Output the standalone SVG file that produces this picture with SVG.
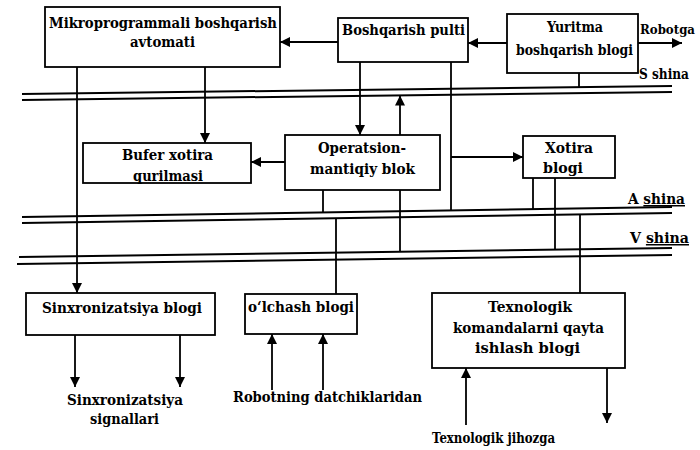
<svg xmlns="http://www.w3.org/2000/svg" width="700" height="450" viewBox="0 0 700 450">
<defs>
<marker id="ah" viewBox="0 0 10 10" refX="10" refY="5" markerWidth="10" markerHeight="10" markerUnits="userSpaceOnUse" orient="auto">
<path d="M0,0 L10,5 L0,10 Z" fill="#000"/>
</marker>
<style>
.box{fill:#fff;stroke:#000;stroke-width:1.8}
.ln{fill:none;stroke:#000;stroke-width:1.8}
.bus{fill:none;stroke:#000;stroke-width:2}
.ar{fill:none;stroke:#000;stroke-width:1.8;marker-end:url(#ah)}
text{font-family:"DejaVu Serif","Liberation Serif",serif;font-weight:bold;font-size:15px;fill:#000}
</style>
</defs>
<rect width="700" height="450" fill="#fff"/>

<g id="buses">
<line class="bus" x1="22" y1="94" x2="672" y2="86"/>
<line class="bus" x1="22" y1="100" x2="672" y2="92"/>
<line class="bus" x1="22" y1="217" x2="672" y2="207"/>
<line class="bus" x1="22" y1="223" x2="672" y2="213"/>
<line class="bus" x1="19" y1="257" x2="672" y2="248"/>
<line class="bus" x1="17" y1="264" x2="672" y2="255"/>
<text x="639" y="79" textLength="50" lengthAdjust="spacingAndGlyphs">S shina</text>
<text x="628" y="204" textLength="57" lengthAdjust="spacingAndGlyphs">A <tspan text-decoration="underline">shina</tspan></text>
<text x="630" y="243" textLength="59" lengthAdjust="spacingAndGlyphs">V <tspan text-decoration="underline">shina</tspan></text>
</g>

<g id="connectors">
<line class="ar" x1="77" y1="67" x2="77" y2="293"/>
<line class="ar" x1="205" y1="67" x2="205" y2="143"/>
<line class="ar" x1="338" y1="42" x2="280" y2="42"/>
<line class="ar" x1="507" y1="43" x2="468" y2="43"/>
<line class="ar" x1="638" y1="43" x2="682" y2="43"/>
<line class="ar" x1="360" y1="62" x2="360" y2="135"/>
<line class="ar" x1="400" y1="135" x2="400" y2="95.5"/>
<line class="ln" x1="451" y1="62" x2="451" y2="210.4"/>
<line class="ar" x1="451" y1="157" x2="523" y2="157"/>
<line class="ln" x1="579" y1="73" x2="579" y2="87.2"/>
<line class="ar" x1="285" y1="162" x2="251" y2="162"/>
<line class="ln" x1="323" y1="190" x2="323" y2="212.4"/>
<line class="ln" x1="400" y1="190" x2="400" y2="251.7"/>
<line class="ln" x1="336" y1="218.2" x2="336" y2="294"/>
<line class="ln" x1="533" y1="178" x2="533" y2="209.1"/>
<line class="ln" x1="555" y1="178" x2="555" y2="249.6"/>
<line class="ln" x1="580" y1="214.4" x2="580" y2="293"/>
<line class="ar" x1="75" y1="335" x2="75" y2="387"/>
<line class="ar" x1="180" y1="335" x2="180" y2="387"/>
<line class="ar" x1="272" y1="390" x2="272" y2="334"/>
<line class="ar" x1="323" y1="390" x2="323" y2="334"/>
<line class="ar" x1="466" y1="425" x2="466" y2="368"/>
<line class="ar" x1="607" y1="368" x2="607" y2="423"/>
<text x="640" y="34" style="font-size:13px" textLength="55" lengthAdjust="spacingAndGlyphs">Robotga</text>
<text x="67" y="405" textLength="116" lengthAdjust="spacingAndGlyphs">Sinxronizatsiya</text>
<text x="90" y="424" textLength="69" lengthAdjust="spacingAndGlyphs">signallari</text>
<text x="233" y="402" textLength="189" lengthAdjust="spacingAndGlyphs">Robotning datchiklaridan</text>
<text x="432" y="443" textLength="123" lengthAdjust="spacingAndGlyphs">Texnologik jihozga</text>
</g>

<g id="mikro">
<rect class="box" x="45" y="7" width="235" height="60"/>
<text x="49" y="28" textLength="228" lengthAdjust="spacingAndGlyphs">Mikroprogrammali boshqarish</text>
<text x="130" y="47" textLength="65" lengthAdjust="spacingAndGlyphs">avtomati</text>
</g>

<g id="pult">
<rect class="box" x="338" y="18" width="130" height="44"/>
<text x="342" y="35" textLength="123" lengthAdjust="spacingAndGlyphs">Boshqarish pulti</text>
</g>

<g id="yuritma">
<rect class="box" x="507" y="14" width="131" height="59"/>
<text x="547" y="32" textLength="56" lengthAdjust="spacingAndGlyphs">Yuritma</text>
<text x="516" y="55" textLength="117" lengthAdjust="spacingAndGlyphs">boshqarish blogi</text>
</g>

<g id="bufer">
<rect class="box" x="83" y="143" width="168" height="40"/>
<text x="122" y="160" textLength="91" lengthAdjust="spacingAndGlyphs">Bufer xotira</text>
<text x="133" y="181" textLength="70" lengthAdjust="spacingAndGlyphs">qurilmasi</text>
</g>

<g id="operatsion">
<rect class="box" x="285" y="135" width="155" height="55"/>
<text x="318" y="153" textLength="88" lengthAdjust="spacingAndGlyphs">Operatsion-</text>
<text x="310" y="174" textLength="105" lengthAdjust="spacingAndGlyphs">mantiqiy blok</text>
</g>

<g id="xotira">
<rect class="box" x="523" y="136" width="92" height="42"/>
<text x="545" y="153" textLength="48" lengthAdjust="spacingAndGlyphs">Xotira</text>
<text x="543" y="173" textLength="40" lengthAdjust="spacingAndGlyphs">blogi</text>
</g>

<g id="sinxron">
<rect class="box" x="26" y="293" width="189" height="42"/>
<text x="42" y="313" textLength="160" lengthAdjust="spacingAndGlyphs">Sinxronizatsiya blogi</text>
</g>

<g id="olchash">
<rect class="box" x="245" y="294" width="112" height="40"/>
<text x="248" y="312" textLength="106" lengthAdjust="spacingAndGlyphs">o‘lchash blogi</text>
</g>

<g id="texnologik">
<rect class="box" x="432" y="293" width="193" height="75"/>
<text x="488" y="312" textLength="84" lengthAdjust="spacingAndGlyphs">Texnologik</text>
<text x="453" y="333" textLength="151" lengthAdjust="spacingAndGlyphs">komandalarni qayta</text>
<text x="475" y="353" textLength="105" lengthAdjust="spacingAndGlyphs">ishlash blogi</text>
</g>
</svg>
